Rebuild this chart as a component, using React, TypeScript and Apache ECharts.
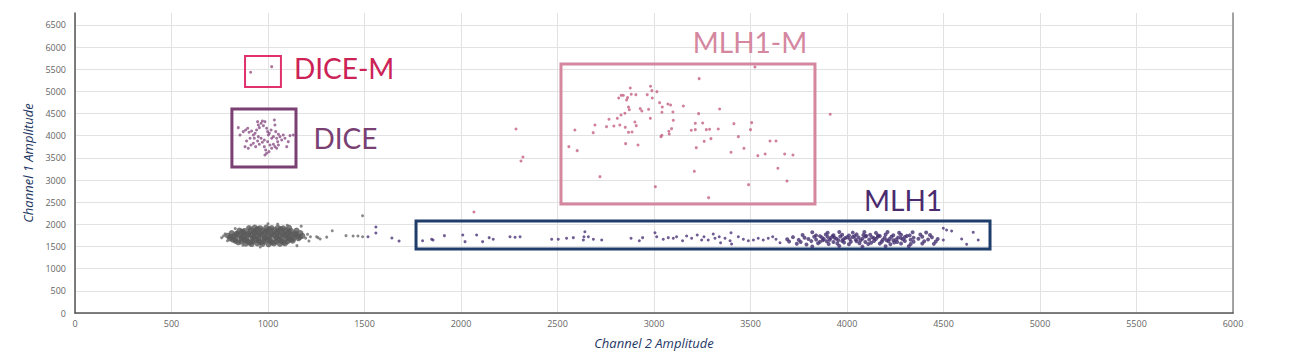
import React, { useEffect, useRef } from "react";
import * as echarts from "echarts";

// ---- axis ticks ----
const xTicks = [0, 500, 1000, 1500, 2000, 2500, 3000, 3500, 4000, 4500, 5000, 5500, 6000];
const yTicks = [0, 500, 1000, 1500, 2000, 2500, 3000, 3500, 4000, 4500, 5000, 5500, 6000, 6500];
const xMax = 6000;
const yMax = 6770;

// ---- double negative (gray) cluster ----
const grayCore: number[][] = [
  [885,1565],[915,1555],[945,1570],[972,1560],[1003,1550],[1031,1568],[1062,1558],[1088,1572],
  [832,1625],[861,1612],[893,1628],[921,1615],[952,1630],[979,1618],[1012,1626],[1041,1611],[1069,1629],[1101,1617],[1128,1632],
  [803,1684],[829,1672],[862,1688],[888,1676],[921,1690],[951,1678],[982,1686],[1009,1672],[1042,1688],[1071,1676],[1098,1690],[1131,1678],[1158,1686],
  [792,1744],[821,1732],[851,1748],[879,1736],[912,1750],[941,1738],[969,1746],[1002,1734],[1031,1750],[1059,1738],[1091,1748],[1119,1736],[1149,1746],[1178,1740],
  [812,1804],[839,1792],[871,1808],[899,1796],[932,1810],[961,1798],[989,1806],[1021,1794],[1049,1810],[1081,1798],[1109,1806],[1141,1796],[1168,1802],
  [852,1862],[879,1852],[911,1868],[939,1856],[971,1866],[999,1854],[1032,1868],[1059,1856],[1091,1864],[1119,1852],[1148,1860],
  [902,1918],[931,1928],[959,1914],[991,1926],[1019,1916],[1051,1924],[1079,1912],[1109,1922],
  [846,1595],[905,1590],[962,1598],[1020,1592],[1080,1596],[1115,1655],[818,1655],[876,1650],[935,1658],[995,1652],[1055,1656],
  [806,1715],[866,1712],[926,1718],[986,1710],[1046,1716],[1106,1712],[1164,1714],[836,1775],[896,1770],[956,1778],[1016,1772],
  [1076,1776],[1136,1772],[866,1835],[926,1830],[986,1838],[1046,1832],[1106,1836],[946,1895],[1006,1890],[1066,1896],
];
const grayEdge: number[][] = [
  [760,1700],[778,1785],[790,1630],[1195,1690],[1205,1775],[1212,1625],[1172,1960],[830,1905],
  [1150,1520],[960,1490],[1050,2005],[1000,2012],[870,1530],[1100,1980],[770,1740],[1220,1720],
  [1252,1722],[1259,1700],[1270,1670],[1304,1712],[1333,1857],[1404,1745],[1441,1738],[1466,1738],
  [1490,1722],[1490,2196],
];

// ---- DICE cluster ----
const dicePts: number[][] = [
  [846,4183],[855,4018],[872,4093],[884,4130],[895,4168],[902,4078],[915,4108],[924,4018],[933,4055],[941,4130],
  [946,4318],[950,4243],[955,4183],[964,4281],[971,4333],[976,4228],[984,4318],[993,4168],[998,4093],[1002,4018],
  [1007,4055],[1016,4130],[1019,3942],[1028,3980],[1033,4356],[1036,4243],[1040,4093],[1045,3942],[1050,3867],[1054,4033],
  [1062,3980],[1071,3905],[1079,4018],[1088,3942],[1097,3754],[1105,3867],[1114,4003],[1131,4018],[881,3754],[898,3717],
  [912,3792],[924,3830],[936,3754],[946,3882],[955,3807],[964,3942],[971,3852],[981,3754],[988,3679],[993,3604],
  [998,3867],[1010,3792],[1019,3717],[1028,3807],[1036,3754],[1045,3717],[1054,3792],[981,3905],[950,3980],[929,3942],
  [907,3942],[889,3882],[984,3566],[1005,3641],
];

// ---- DICE-M ----
const diceMPts: number[][] = [[910,5432],[1019,5559]];

// ---- MLH1-M ----
const mlh1MPts: number[][] = [
  [2559,3754],[2590,4130],[2602,3664],[2685,4070],[2694,4243],[2720,3077],[2754,4205],[2767,4371],[2792,4220],[2810,4393],
  [2817,4852],[2823,4243],[2829,4469],[2830,4912],[2841,4912],[2849,4506],[2851,4190],[2853,3822],[2858,4807],[2863,4860],
  [2868,4649],[2868,4077],[2872,4589],[2877,5078],[2882,4935],[2886,4085],[2901,4311],[2906,4927],[2908,4228],[2917,3791],
  [2929,4611],[2937,4559],[2965,4927],[2972,4596],[2981,4393],[2982,5116],[2989,5018],[2991,4852],[3007,2851],[3015,4995],
  [3029,4747],[3036,3980],[3041,4010],[3043,4649],[3041,4529],[3072,4717],[3077,4100],[3079,4040],[3086,4694],[3091,4160],
  [3098,4536],[3100,4348],[3152,4672],[3193,4123],[3209,3197],[3214,4280],[3214,4138],[3219,3731],[3231,4499],[3234,5289],
  [3252,4288],[3260,3874],[3271,4138],[3283,2603],[3288,4145],[3295,3935],[3333,4153],[3340,4604],[3399,3626],[3414,4273],
  [3437,3980],[3466,3716],[3490,2896],[3500,4138],[3506,4296],[3523,5552],[3538,3551],[3576,3589],[3601,3882],[3632,3882],
  [3642,3265],[3677,3589],[3689,2979],[3720,3566],[3913,4484],
  [2285,4153],[2311,3431],[2321,3521],[2067,2280],
];

// ---- MLH1 sparse row ----
const mlh1Sparse: number[][] = [
  [1518,1722],[1559,1941],[1559,1805],[1642,1693],[1679,1625],
  [1801,1632],[1848,1663],[1855,1648],[1914,1745],[2009,1760],[2021,1610],[2081,1760],[2112,1610],[2146,1700],[2167,1663],
  [2254,1722],[2280,1708],[2306,1722],[2470,1663],[2504,1663],[2547,1686],[2582,1700],[2642,1835],[2637,1722],[2634,1648],
  [2660,1722],[2686,1663],[2729,1648],[2881,1686],[2924,1632],[2941,1700],[3005,1812],[3014,1722],[3048,1663],[3074,1700],
  [3100,1686],[3117,1722],[3148,1632],[3169,1738],[3195,1686],[3224,1760],[3247,1648],[3259,1722],[3281,1648],[3307,1783],
  [3316,1686],[3338,1722],[3345,1587],[3368,1686],[3399,1812],[3394,1632],[3402,1557],[3437,1722],[3463,1663],[3489,1632],
  [3515,1648],[3540,1686],[3566,1648],[3592,1686],[3615,1722],[3632,1663],[3653,1587],
  [4499,1911],[4499,1648],[4516,1873],[4542,1850],[4594,1670],[4620,1550],[4654,1820],[4680,1648],
];

// ---- MLH1 dense cluster ----
const mlh1Dense: number[][] = [
  [3740,1565],[3790,1548],[3850,1572],[3905,1555],[3950,1568],[4010,1550],[4065,1574],[4110,1558],[4170,1566],[4225,1552],[4280,1570],[4330,1556],[4390,1568],[4450,1560],
  [3700,1615],[3760,1602],[3815,1622],[3860,1608],[3895,1618],[3930,1600],[3975,1625],[4020,1606],[4050,1620],[4095,1604],[4140,1626],[4180,1610],[4215,1618],[4260,1602],[4300,1624],[4345,1608],[4400,1620],[4460,1612],
  [3690,1662],[3750,1650],[3800,1672],[3840,1656],[3880,1668],[3910,1650],[3945,1674],[3980,1658],[4015,1670],[4045,1652],[4080,1676],[4115,1660],[4150,1668],[4185,1650],[4220,1672],[4255,1658],[4290,1666],[4330,1652],[4370,1674],[4420,1660],[4470,1668],
  [3720,1712],[3780,1700],[3830,1722],[3870,1706],[3900,1718],[3935,1700],[3965,1724],[4000,1708],[4030,1716],[4060,1702],[4095,1726],[4130,1708],[4160,1718],[4195,1700],[4230,1722],[4265,1706],[4300,1714],[4345,1700],[4390,1720],[4440,1708],
  [3770,1762],[3840,1752],[3890,1772],[3930,1756],[3975,1768],[4010,1750],[4050,1774],[4085,1758],[4120,1766],[4160,1752],[4200,1772],[4240,1756],[4280,1768],[4325,1752],[4380,1770],[4430,1758],
  [3820,1822],[3900,1810],[3960,1830],[4030,1814],[4090,1826],[4150,1808],[4210,1828],[4270,1812],[4340,1824],[4410,1816],
  [3820,1502],[3960,1512],[4080,1498],[4200,1508],[4320,1504],
  [3875,1640],[3990,1690],[4070,1640],[4140,1690],[4205,1640],[4280,1690],[3925,1735],[4040,1735],[4170,1740],[4240,1640],
  [3915,1690],[3955,1640],[4100,1740],[4310,1740],[3985,1590],[4125,1585],[4245,1590],[3860,1735],
];

// ---- annotation boxes: [xMin, yMin, xMax, yMax] in data units ----
const diceMBox = [881, 5101, 1067, 5801];
const diceBox = [813, 3295, 1145, 4604];
const mlh1MBox = [2518, 2460, 3834, 5620];
const mlh1Box = [1767, 1444, 4741, 2076];

const labelFont = "Lato, 'Open Sans', sans-serif";

function box(b: number[], color: string, width: number, label: any) {
  return {
    silent: true,
    data: [[
      {
        coord: [b[0], b[3]],
        itemStyle: { color: "rgba(0,0,0,0)", borderColor: color, borderWidth: width },
        label,
      },
      { coord: [b[2], b[1]] },
    ]],
  };
}

const plain = (v: number) => String(Math.round(v));

export default function App() {
  const ref = useRef<HTMLDivElement>(null);
  useEffect(() => {
    if (!ref.current) return;
    const chart = echarts.init(ref.current, undefined, { renderer: "svg" });
    chart.setOption({
      animation: false,
      backgroundColor: "#ffffff",
      grid: { left: 75, right: 58, top: 13, bottom: 50 },
      xAxis: {
        type: "value",
        min: xTicks[0],
        max: xMax,
        interval: 500,
        name: "Channel 2 Amplitude",
        nameLocation: "middle",
        nameGap: 23,
        nameTextStyle: { color: "#1f3864", fontStyle: "italic", fontSize: 13, fontFamily: "'Open Sans', sans-serif" },
        axisLine: { show: true, lineStyle: { color: "#555", width: 1.5 } },
        axisTick: { show: false },
        axisLabel: { color: "#666", fontSize: 9, fontFamily: "'Liberation Sans Narrow', 'Open Sans', sans-serif", margin: 6, formatter: plain },
        splitLine: { show: true, lineStyle: { color: "#e2e2e2", width: 1 } },
      },
      yAxis: [
        {
          type: "value",
          min: yTicks[0],
          max: yMax,
          interval: 500,
          name: "Channel 1 Amplitude",
          nameLocation: "middle",
          nameGap: 36,
          nameTextStyle: { color: "#1f3864", fontStyle: "italic", fontSize: 13, fontFamily: "'Open Sans', sans-serif" },
          axisLine: { show: true, lineStyle: { color: "#555", width: 1.5 } },
          axisTick: { show: false },
          axisLabel: { color: "#666", fontSize: 9, fontFamily: "'Open Sans', sans-serif", margin: 9, showMaxLabel: false, formatter: plain },
          splitLine: { show: true, showMaxLine: false, lineStyle: { color: "#e2e2e2", width: 1 } },
        },
        {
          type: "value",
          position: "right",
          min: 0,
          max: yMax,
          interval: 500,
          axisLine: { show: true, lineStyle: { color: "#888", width: 1.5 } },
          axisTick: { show: false },
          axisLabel: { show: false },
          splitLine: { show: false },
        },
      ],
      series: [
        {
          name: "Negative core",
          type: "scatter",
          data: grayCore,
          symbolSize: 6,
          itemStyle: { color: "#5a5a5a" },
          silent: true,
        },
        {
          name: "Negative",
          type: "scatter",
          data: grayEdge,
          symbolSize: 3,
          itemStyle: { color: "#6a6a6a" },
          silent: true,
        },
        {
          name: "MLH1-M",
          type: "scatter",
          data: mlh1MPts,
          symbolSize: 3,
          itemStyle: { color: "#c4607f" },
          silent: true,
          markArea: box(mlh1MBox, "#d4879f", 3, {
            show: true,
            formatter: "MLH1-M",
            position: "top",
            distance: 6,
            offset: [62, 0],
            color: "#d4879f",
            fontSize: 28,
            fontFamily: labelFont,
          }),
        },
        {
          name: "MLH1",
          type: "scatter",
          data: mlh1Sparse,
          symbolSize: 3,
          itemStyle: { color: "#4b3578" },
          silent: true,
          markArea: box(mlh1Box, "#1f3d6b", 3, {
            show: true,
            formatter: "MLH1",
            position: "top",
            distance: 6,
            offset: [200, 0],
            color: "#4a2b6e",
            fontSize: 28,
            fontFamily: labelFont,
          }),
        },
        {
          name: "MLH1 dense",
          type: "scatter",
          data: mlh1Dense,
          symbolSize: 4,
          itemStyle: { color: "#43306f" },
          silent: true,
        },
        {
          name: "DICE",
          type: "scatter",
          data: dicePts,
          symbolSize: 3,
          itemStyle: { color: "#8a4f86" },
          silent: true,
          markArea: box(diceBox, "#7a3f73", 3, {
            show: true,
            formatter: "DICE",
            position: "right",
            distance: 16,
            color: "#7a3f73",
            fontSize: 28,
            fontFamily: labelFont,
          }),
        },
        {
          name: "DICE-M",
          type: "scatter",
          data: diceMPts,
          symbolSize: 3,
          itemStyle: { color: "#9b4f7f" },
          silent: true,
          markArea: box(diceMBox, "#e0306e", 2, {
            show: true,
            formatter: "DICE-M",
            position: "right",
            distance: 12,
            offset: [0, -3],
            color: "#cc2256",
            fontSize: 28,
            fontFamily: labelFont,
          }),
        },
      ],
    });
    return () => chart.dispose();
  }, []);
  return (
    <div
      ref={ref}
      style={{ position: "absolute", left: 0, top: 0, width: 1291, height: 363 }}
    />
  );
}
